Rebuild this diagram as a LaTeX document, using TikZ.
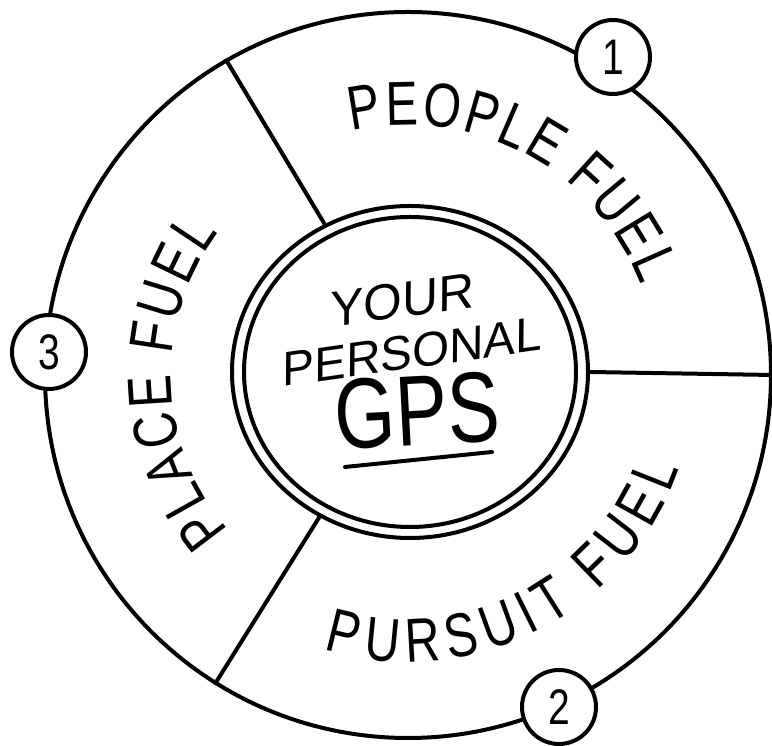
\documentclass[tikz,border=0pt]{standalone}
\usepackage{fontspec}
\usetikzlibrary{shapes.geometric,decorations.text}
\newfontfamily\handfont[FakeStretch=0.78]{Liberation Sans}
\newfontfamily\handslant[FakeSlant=0.15]{Liberation Sans}

\begin{document}
\begin{tikzpicture}[x=1pt,y=1pt,
  ink/.style={line width=4pt},
  ring/.style={ellipse,draw,ink,inner sep=0pt},
  numbadge/.style={circle,draw,ink,fill=white,minimum size=74pt,inner sep=0pt,
    font=\handfont\fontsize{50}{50}\selectfont},
  hubtext/.style={font=\handslant\fontsize{48}{48}\selectfont,inner sep=0pt}]
\useasboundingbox (0,0) rectangle (772,746);
% wheel and hub
\node[circle,draw,ink,minimum size=726pt,inner sep=0pt] (rim) at (408,371) {};
\node[ring,minimum width=356pt,minimum height=332pt] (hub) at (410,374) {};
\node[ring,minimum width=332pt,minimum height=310pt] (hubin) at (410,374) {};
\draw[ink] (hub.120) -- (rim.120);
\draw[ink] (hub.0) -- (rim.0);
\draw[ink] (hub.238) -- (rim.238);
% fuel labels along the wheel
\path[decorate,decoration={text along path,text align=fit to path,
  text={|\handfont\fontsize{62}{62}\selectfont|PEOPLE FUEL}}]
  ([shift={(103:250)}]rim.center) arc[start angle=103,end angle=21,radius=250];
\path[decorate,decoration={text along path,text align=fit to path,
  text={|\handfont\fontsize{62}{62}\selectfont|PURSUIT FUEL}}]
  ([shift={(253:287)}]rim.center) arc[start angle=253,end angle=341,radius=287];
\path[decorate,decoration={text along path,text align=fit to path,
  text={|\handfont\fontsize{62}{62}\selectfont|PLACE FUEL}}]
  ([shift={(221:237)}]rim.center) arc[start angle=221,end angle=143,radius=237];
% centre
\node[hubtext,rotate=8,font=\handslant\fontsize{50}{50}\selectfont] (your) at (400,446) {YOUR};
\node[hubtext,rotate=8] (personal) at (410,394) {PERSONAL};
\node[font=\handfont\fontsize{100}{100}\selectfont,rotate=3,inner sep=0pt] (gps) at (417,335) {GPS};
\draw[ink,line cap=round] (345,279) -- (492,294);
% numbers
\node[numbadge] (one) at (613,689) {1};
\node[numbadge] (two) at (559,39) {2};
\node[numbadge] (three) at (49,394) {3};
\end{tikzpicture}
\end{document}
